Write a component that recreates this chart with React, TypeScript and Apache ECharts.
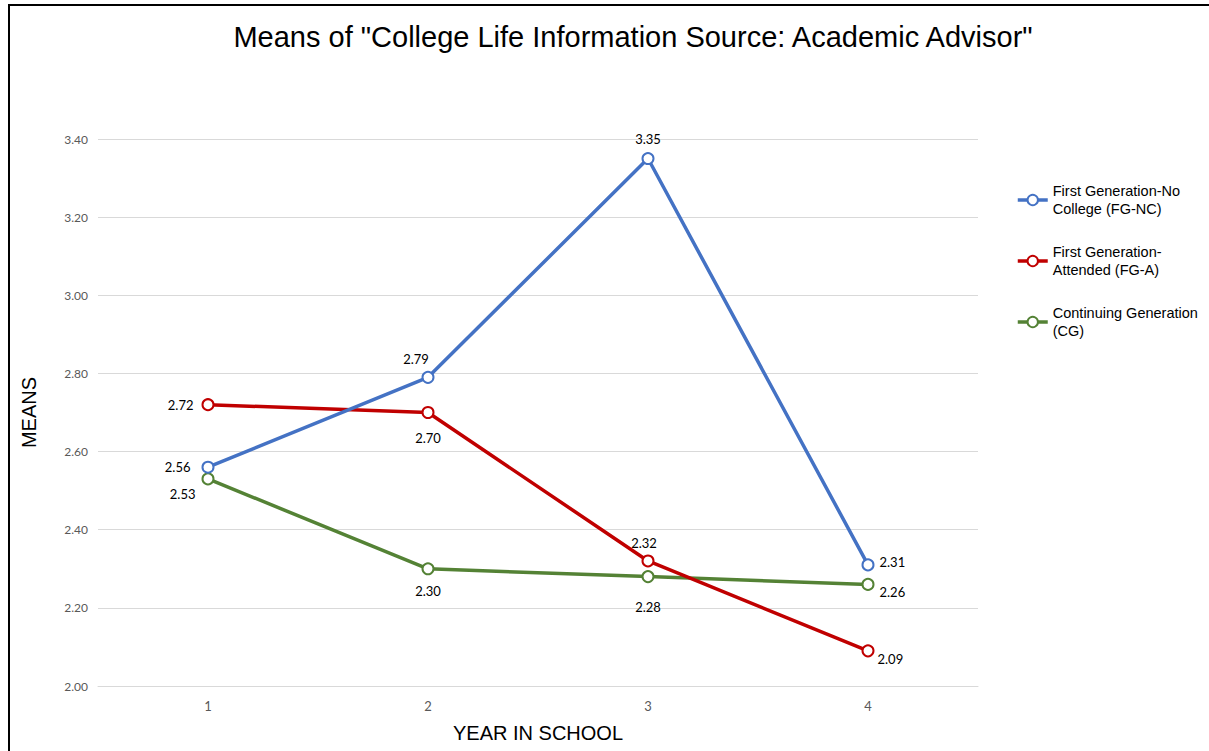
import React, { useEffect, useRef } from "react";
import * as echarts from "echarts";

const years = ["1", "2", "3", "4"];
const seriesNames = [
  "First Generation-No College (FG-NC)",
  "First Generation-Attended (FG-A)",
  "Continuing Generation (CG)",
];
const legendLabels = [
  "First Generation-No\nCollege (FG-NC)",
  "First Generation-\nAttended (FG-A)",
  "Continuing Generation\n(CG)",
];
const fgNC = [2.56, 2.79, 3.35, 2.31];
const fgA = [2.72, 2.7, 2.32, 2.09];
const cg = [2.53, 2.3, 2.28, 2.26];
const yTicks = { min: 2.0, max: 3.4, interval: 0.2 };

const colors = ["#4472C4", "#C00000", "#548235"];

// label placements (styling only)
const placements: any[][] = [
  [
    { position: "left", distance: 11 },
    { position: "top", offset: [-12, 0] },
    { position: "top", distance: 7 },
    { position: "right", offset: [0, -3] },
  ],
  [
    { position: "left", distance: 8 },
    { position: "bottom", distance: 12 },
    { position: "top", offset: [-4, 0] },
    { position: "right", distance: 3, offset: [0, 8] },
  ],
  [
    { position: "left", distance: 6, offset: [0, 15] },
    { position: "bottom", distance: 9 },
    { position: "bottom", distance: 17 },
    { position: "right", offset: [0, 8] },
  ],
];

export default function App() {
  const ref = useRef<HTMLDivElement>(null);
  useEffect(() => {
    if (!ref.current) return;
    const chart = echarts.init(ref.current, undefined, { renderer: "svg" });
    const values = [fgNC, fgA, cg];
    const series = values.map((vals, si) => ({
      name: seriesNames[si],
      type: "line",
      data: vals.map((v, i) => ({
        value: v,
        label: placements[si][i],
      })),
      symbol: "circle",
      symbolSize: 11,
      lineStyle: { color: colors[si], width: 3.5 },
      itemStyle: { color: "#ffffff", borderColor: colors[si], borderWidth: 2 },
      label: {
        show: true,
        formatter: (p: any) => Number(p.value).toFixed(2),
        fontFamily: "Lato",
        fontSize: 13,
        color: "#000000",
      },
      z: 3 - si,
    }));
    chart.setOption({
      animation: false,
      color: colors,
      graphic: [
        {
          type: "text",
          x: 633,
          y: 37,
          style: {
            text: 'Means of "College Life Information Source: Academic Advisor"',
            fontFamily: "Liberation Sans",
            fontSize: 29,
            fill: "#000000",
            align: "center",
            verticalAlign: "middle",
          },
        },
        {
          type: "line",
          shape: { x1: 9, y1: 5, x2: 1209, y2: 5 },
          style: { stroke: "#000000", lineWidth: 2 },
        },
        {
          type: "line",
          shape: { x1: 9, y1: 4, x2: 9, y2: 751 },
          style: { stroke: "#000000", lineWidth: 2 },
        },
      ],
      legend: {
        orient: "vertical",
        left: 1016,
        top: 173,
        padding: 0,
        itemGap: 7,
        itemWidth: 30,
        itemHeight: 13,
        data: seriesNames,
        lineStyle: { width: 3.5 },
        formatter: (name: string) => legendLabels[seriesNames.indexOf(name)],
        textStyle: {
          fontFamily: "Liberation Sans",
          fontSize: 14.5,
          lineHeight: 18,
          color: "#000000",
          padding: [18, 0, 0, 0],
        },
      },
      grid: { left: 98, right: 231, top: 139, bottom: 65 },
      xAxis: {
        type: "category",
        data: years,
        boundaryGap: true,
        name: "YEAR IN SCHOOL",
        nameLocation: "middle",
        nameGap: 37,
        nameTextStyle: {
          fontFamily: "Liberation Sans",
          fontSize: 20,
          color: "#000000",
        },
        axisLine: { lineStyle: { color: "#D9D9D9", width: 1 } },
        axisTick: { show: false },
        axisLabel: {
          fontFamily: "Lato",
          fontSize: 13,
          color: "#595959",
          margin: 13,
        },
      },
      yAxis: {
        type: "value",
        min: yTicks.min,
        max: yTicks.max,
        interval: yTicks.interval,
        name: "MEANS",
        nameLocation: "middle",
        nameGap: 59,
        nameRotate: 90,
        nameTextStyle: {
          fontFamily: "Liberation Sans",
          fontSize: 20,
          color: "#000000",
        },
        axisLine: { show: false },
        axisTick: { show: false },
        splitLine: { lineStyle: { color: "#D9D9D9", width: 1 } },
        axisLabel: {
          fontFamily: "Lato",
          fontSize: 12,
          color: "#595959",
          margin: 10,
          formatter: (v: number) => v.toFixed(2),
        },
      },
      series,
    });
    return () => chart.dispose();
  }, []);
  return (
    <div
      ref={ref}
      style={{
        position: "fixed",
        left: 0,
        top: 0,
        width: 1209,
        height: 751,
        background: "#ffffff",
      }}
    />
  );
}
